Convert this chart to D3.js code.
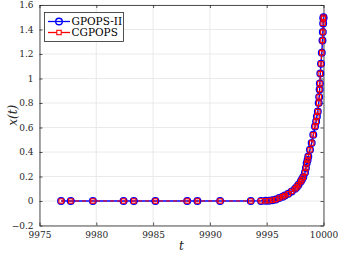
<!DOCTYPE html>
<html>
<head>
<meta charset="utf-8">
<script src="https://d3js.org/d3.v7.min.js"></script>
<style>
  body { margin: 0; background: #fff; }
  svg text { font-family: "DejaVu Serif"; }
</style>
</head>
<body>
<div id="chart"></div>
<script>
// mesh points (t, x(t))
const tGpops = [9976.9, 9977.75, 9979.7, 9982.4, 9983.3, 9985.2, 9988.0, 9988.9, 9990.9, 9993.6,
  9994.5, 9994.9, 9995.2, 9995.5, 9995.8, 9996.1, 9996.4, 9996.6, 9996.9, 9997.2,
  9997.5, 9997.65, 9997.8, 9998.0, 9998.1, 9998.22, 9998.37, 9998.45, 9998.52, 9998.6,
  9998.66, 9998.81, 9998.96, 9999.1, 9999.25, 9999.35, 9999.42, 9999.5, 9999.58, 9999.62,
  9999.66, 9999.68, 9999.72, 9999.78, 9999.85, 9999.91, 9999.94, 9999.97, 9999.99, 10000];
const xGpops = [0, 0, 0, 0, 0, 0, 0, 0, 0, 0,
  0.001, 0.002, 0.003, 0.006, 0.012, 0.024, 0.035, 0.045, 0.059, 0.078,
  0.100, 0.115, 0.133, 0.159, 0.175, 0.195, 0.233, 0.27, 0.309, 0.335,
  0.363, 0.418, 0.473, 0.54, 0.608, 0.65, 0.69, 0.73, 0.80, 0.85,
  0.91, 0.96, 1.04, 1.12, 1.21, 1.31, 1.38, 1.45, 1.49, 1.5];
const tCgpops = tGpops.slice();
const xCgpops = xGpops.slice();

const xTicks = [9975, 9980, 9985, 9990, 9995, 10000];
const yTicks = [-0.2, 0, 0.2, 0.4, 0.6, 0.8, 1, 1.2, 1.4, 1.6];
const seriesNames = ["GPOPS-II", "CGPOPS"];

const W = 338, H = 256;
const m = { left: 39.5, right: 14.5, top: 5, bottom: 30.5 };

const svg = d3.select("#chart").append("svg").attr("width", W).attr("height", H);

const x = d3.scaleLinear().domain([9975, 10000]).range([m.left, W - m.right]);
const y = d3.scaleLinear().domain([-0.2, 1.6]).range([H - m.bottom, m.top]);

// grid
const grid = svg.append("g").attr("stroke", "#e5e5e5").attr("stroke-width", 0.8);
grid.selectAll(".gx").data(xTicks).join("line")
  .attr("x1", d => x(d)).attr("x2", d => x(d)).attr("y1", y(-0.2)).attr("y2", y(1.6));
grid.selectAll(".gy").data(yTicks).join("line")
  .attr("y1", d => y(d)).attr("y2", d => y(d)).attr("x1", x(9975)).attr("x2", x(10000));

// axes (ticks inward, box on)
const axisStyle = g => {
  g.attr("font-family", null);
  g.select(".domain").attr("stroke", "#262626").attr("stroke-width", 0.8);
  g.selectAll(".tick line").attr("stroke", "#262626").attr("stroke-width", 0.8);
  g.selectAll("text").attr("fill", "#262626").style("font-size", "9px");
};
svg.append("g").attr("transform", `translate(0,${y(-0.2)})`)
  .call(d3.axisBottom(x).tickValues(xTicks).tickSizeInner(-3).tickSizeOuter(0).tickPadding(6).tickFormat(d3.format("")))
  .call(axisStyle);
svg.append("g").attr("transform", `translate(0,${y(1.6)})`)
  .call(d3.axisTop(x).tickValues(xTicks).tickSizeInner(-3).tickSizeOuter(0).tickFormat(""))
  .call(axisStyle);
svg.append("g").attr("transform", `translate(${x(9975)},0)`)
  .call(d3.axisLeft(y).tickValues(yTicks).tickSizeInner(-3).tickSizeOuter(0).tickPadding(6).tickFormat(d3.format("")))
  .call(axisStyle);
svg.append("g").attr("transform", `translate(${x(10000)},0)`)
  .call(d3.axisRight(y).tickValues(yTicks).tickSizeInner(-3).tickSizeOuter(0).tickFormat(""))
  .call(axisStyle);

// series
const gp = tGpops.map((t, i) => [t, xGpops[i]]);
const cg = tCgpops.map((t, i) => [t, xCgpops[i]]);
const line = d3.line().x(d => x(d[0])).y(d => y(d[1]));

svg.append("path").datum(gp).attr("d", line)
  .attr("fill", "none").attr("stroke", "#0000ff").attr("stroke-width", 1.4);
svg.append("g").selectAll("circle").data(gp).join("circle")
  .attr("cx", d => x(d[0])).attr("cy", d => y(d[1])).attr("r", 3.3)
  .attr("fill", "none").attr("stroke", "#0000ff").attr("stroke-width", 1.4);

svg.append("path").datum(cg).attr("d", line)
  .attr("fill", "none").attr("stroke", "#ff0000").attr("stroke-width", 1.2)
  .attr("stroke-dasharray", "4,3");
svg.append("g").selectAll("rect").data(cg).join("rect")
  .attr("x", d => x(d[0]) - 2.2).attr("y", d => y(d[1]) - 2.2)
  .attr("width", 4.4).attr("height", 4.4)
  .attr("fill", "none").attr("stroke", "#ff0000").attr("stroke-width", 1.1);

// legend
const lg = svg.append("g");
lg.append("rect").attr("x", 44.5).attr("y", 12.5).attr("width", 79).attr("height", 29)
  .attr("fill", "#fff").attr("stroke", "#262626").attr("stroke-width", 0.8);
const rows = [
  { name: seriesNames[0], color: "#0000ff", yy: 21.5, mark: "circle" },
  { name: seriesNames[1], color: "#ff0000", yy: 32.5, mark: "rect" }
];
rows.forEach(r => {
  lg.append("line").attr("x1", 48).attr("x2", 70).attr("y1", r.yy).attr("y2", r.yy)
    .attr("stroke", r.color).attr("stroke-width", 1.3);
  if (r.mark === "circle") {
    lg.append("circle").attr("cx", 59).attr("cy", r.yy).attr("r", 3.3)
      .attr("fill", "none").attr("stroke", r.color).attr("stroke-width", 1.4);
  } else {
    lg.append("rect").attr("x", 56.8).attr("y", r.yy - 2.2).attr("width", 4.4).attr("height", 4.4)
      .attr("fill", "#fff").attr("stroke", r.color).attr("stroke-width", 1.1);
  }
  lg.append("text").attr("x", 71.5).attr("y", r.yy + 3.8).attr("fill", "#000")
    .attr("font-family", "DejaVu Serif").style("font-size", "10.5px").text(r.name);
});

// axis labels
svg.append("text").attr("x", (x(9975) + x(10000)) / 2).attr("y", 250)
  .attr("text-anchor", "middle").style("font-size", "12px").style("font-style", "italic")
  .attr("fill", "#262626").text("t");
svg.append("text").attr("transform", `translate(17,${y(0.7)}) rotate(-90)`)
  .attr("text-anchor", "middle").style("font-size", "12px").style("font-style", "italic")
  .attr("fill", "#262626").text("x(t)");
</script>
</body>
</html>
